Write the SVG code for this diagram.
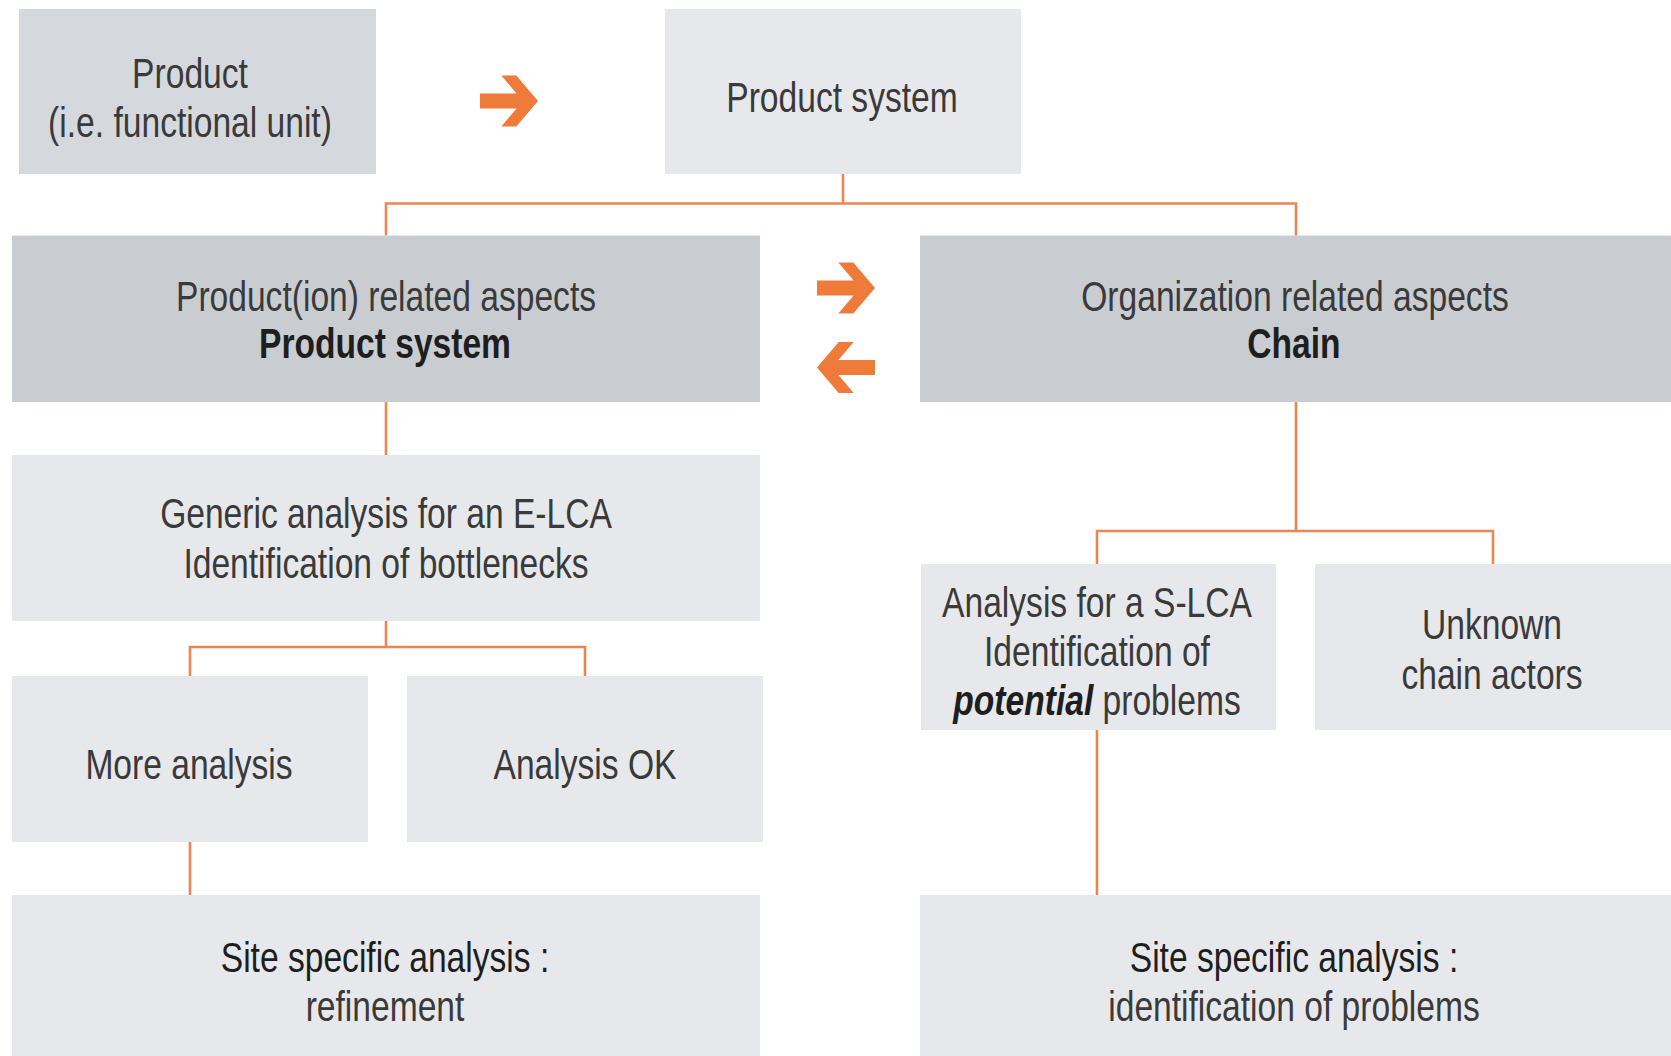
<svg xmlns="http://www.w3.org/2000/svg" width="1671" height="1056" viewBox="0 0 1671 1056">
<style>
.bg{fill:#ffffff}
.dark{fill:#c9cdd2}
.mid{fill:#d5d9de}
.light{fill:#e6e8eb}
.t{font-family:"Liberation Sans",Arial,sans-serif;font-size:42px;fill:#3a3a3a;text-anchor:middle}
.b{font-weight:bold;fill:#1e1e1e}
.s{fill:#1e1e1e}
.conn{fill:none;stroke:#e8874f;stroke-width:2.6}
.arr{fill:#ef7b3a}
</style>
<defs>
<polygon id="arrowR" points="-29,-7.5 7.6,-7.5 -7.7,-25.5 7.3,-25.5 29,0 7.3,25.5 -7.7,25.5 7.6,7.5 -29,7.5"/>
</defs>
<rect class="bg" x="0" y="0" width="1671" height="1056"/>

<g id="connectors">
<polyline class="conn" points="843,174 843,203.5"/>
<polyline class="conn" points="386,235.5 386,203.5 1296,203.5 1296,235.5"/>
<polyline class="conn" points="386,402 386,455"/>
<polyline class="conn" points="386,621 386,647"/>
<polyline class="conn" points="190,676 190,647 585,647 585,676"/>
<polyline class="conn" points="190,842 190,895"/>
<polyline class="conn" points="1296,402 1296,531"/>
<polyline class="conn" points="1097,564 1097,531 1493,531 1493,564"/>
<polyline class="conn" points="1097,730 1097,895"/>
</g>

<g id="arrows">
<use href="#arrowR" class="arr" transform="translate(509,101)"/>
<use href="#arrowR" class="arr" transform="translate(846,288)"/>
<use href="#arrowR" class="arr" transform="translate(846,367.5) scale(-1,1)"/>
</g>

<g id="node-product">
<rect class="mid" x="19" y="9" width="357" height="165"/>
<text class="t" transform="scale(0.8,1)" x="237.5" y="88">Product</text>
<text class="t" transform="scale(0.8,1)" x="237.5" y="137">(i.e. functional unit)</text>
</g>

<g id="node-product-system">
<rect class="light" x="665" y="9" width="356" height="165"/>
<text class="t" transform="scale(0.8,1)" x="1052.5" y="112">Product system</text>
</g>

<g id="node-production-aspects">
<rect class="dark" x="12" y="235.5" width="748" height="166.5"/>
<text class="t" transform="scale(0.8,1)" x="482.5" y="311">Product(ion) related aspects</text>
<text class="t b" transform="scale(0.8,1)" x="481.25" y="358">Product system</text>
</g>

<g id="node-organization-aspects">
<rect class="dark" x="920" y="235.5" width="751" height="166.5"/>
<text class="t" transform="scale(0.8,1)" x="1618.75" y="311">Organization related aspects</text>
<text class="t b" transform="scale(0.8,1)" x="1617.5" y="358">Chain</text>
</g>

<g id="node-generic">
<rect class="light" x="12" y="455" width="748" height="166"/>
<text class="t" transform="scale(0.8,1)" x="482.5" y="528">Generic analysis for an E-LCA</text>
<text class="t" transform="scale(0.8,1)" x="482.5" y="578">Identification of bottlenecks</text>
</g>

<g id="node-more-analysis">
<rect class="light" x="12" y="676" width="356" height="166"/>
<text class="t" transform="scale(0.8,1)" x="236.25" y="779">More analysis</text>
</g>

<g id="node-analysis-ok">
<rect class="light" x="407" y="676" width="356" height="166"/>
<text class="t" transform="scale(0.8,1)" x="731.25" y="779">Analysis OK</text>
</g>

<g id="node-slca">
<rect class="light" x="921" y="564" width="355" height="166"/>
<text class="t" transform="scale(0.8,1)" x="1371.25" y="617">Analysis for a S-LCA</text>
<text class="t" transform="scale(0.8,1)" x="1371.25" y="666">Identification of</text>
<text class="t" transform="scale(0.8,1)" x="1371.25" y="715"><tspan font-weight="bold" font-style="italic" fill="#1e1e1e">potential</tspan> problems</text>
</g>

<g id="node-unknown">
<rect class="light" x="1315" y="564" width="356" height="166"/>
<text class="t" transform="scale(0.8,1)" x="1865" y="639">Unknown</text>
<text class="t" transform="scale(0.8,1)" x="1865" y="689">chain actors</text>
</g>

<g id="node-site-left">
<rect class="light" x="12" y="895" width="748" height="161"/>
<text class="t s" transform="scale(0.8,1)" x="481.25" y="972">Site specific analysis :</text>
<text class="t" transform="scale(0.8,1)" x="481.25" y="1021">refinement</text>
</g>

<g id="node-site-right">
<rect class="light" x="920" y="895" width="751" height="161"/>
<text class="t s" transform="scale(0.8,1)" x="1617.5" y="972">Site specific analysis :</text>
<text class="t" transform="scale(0.8,1)" x="1617.5" y="1021">identification of problems</text>
</g>
</svg>
